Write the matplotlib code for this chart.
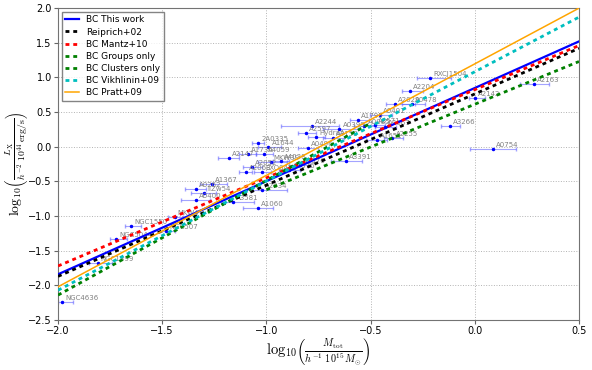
import numpy as np
import matplotlib
matplotlib.use("Agg")
import matplotlib.pyplot as plt

plt.rcParams['mathtext.fontset'] = 'cm'

# cluster sample: name, log10 mass, mass errors (lower / upper), log10 luminosity
names = ["NGC4636", "NGC1399", "NGC5044", "NGC1550", "NGC507", "MKW4",
         "A0400", "IIZw54", "A0262", "A1367", "A3581", "A1060", "A2634",
         "A2147", "2A0335", "A1644", "A1736", "A4059", "MKW3S", "A2052",
         "A2063", "EXO0422", "A0576", "A3376", "A4038", "A0496", "A2244",
         "A2597", "HydraA", "A0399", "A3158", "A3391", "A1795", "A0401",
         "A0085", "A3571", "A3667", "A2255", "A1651", "A2029", "A0478",
         "A2204", "RXCJ1504", "A2142", "A2163", "A3266", "A0754"]
logM = [-1.98, -1.81, -1.72, -1.65, -1.48, -1.44,
        -1.34, -1.30, -1.34, -1.26, -1.16, -1.04, -1.02,
        -1.18, -1.04, -0.99, -1.09, -1.01, -0.98, -1.07,
        -1.10, -1.02, -0.89, -0.84, -0.93, -0.80, -0.78,
        -0.81, -0.76, -0.65, -0.68, -0.62, -0.56, -0.455,
        -0.53, -0.48, -0.43, -0.395, -0.47, -0.385, -0.30,
        -0.31, -0.215, 0.00, 0.285, -0.12, 0.087]
errM_lo = [0.02, 0.04, 0.03, 0.03, 0.03, 0.03,
           0.07, 0.06, 0.05, 0.06, 0.06, 0.07, 0.05,
           0.05, 0.03, 0.05, 0.04, 0.04, 0.06, 0.04,
           0.03, 0.04, 0.05, 0.05, 0.04, 0.05, 0.15,
           0.04, 0.04, 0.08, 0.05, 0.07, 0.04, 0.05,
           0.05, 0.05, 0.05, 0.04, 0.05, 0.04, 0.05,
           0.04, 0.06, 0.03, 0.07, 0.04, 0.11]
errM_hi = [0.05, 0.07, 0.05, 0.05, 0.04, 0.04,
           0.07, 0.06, 0.05, 0.07, 0.10, 0.07, 0.12,
           0.05, 0.03, 0.06, 0.04, 0.04, 0.08, 0.05,
           0.03, 0.04, 0.05, 0.05, 0.04, 0.05, 0.13,
           0.05, 0.04, 0.09, 0.05, 0.08, 0.05, 0.06,
           0.05, 0.05, 0.05, 0.05, 0.05, 0.10, 0.06,
           0.06, 0.10, 0.05, 0.07, 0.05, 0.11]
logL = [-2.24, -1.68, -1.33, -1.14, -1.22, -1.01,
        -0.77, -0.67, -0.61, -0.54, -0.80, -0.89, -0.63,
        -0.16, 0.06, -0.01, -0.10, -0.11, -0.22, -0.29,
        -0.37, -0.37, -0.34, -0.26, -0.20, -0.02, 0.30,
        0.20, 0.14, 0.25, 0.12, -0.21, 0.39, 0.46,
        0.30, 0.32, 0.28, 0.13, 0.10, 0.62, 0.62,
        0.80, 0.99, 0.70, 0.90, 0.30, -0.03]

rel_labels = ["BC This work", "Reiprich+02", "BC Mantz+10", "BC Groups only",
              "BC Clusters only", "BC Vikhlinin+09", "BC Pratt+09"]
rel_colors = ["b", "k", "r", "g", "g", "c", "orange"]
rel_x = [[-2.0, 0.5], [-2.0, 0.5], [-2.0, 0.5], [-2.0, -0.5],
         [-1.0, 0.5], [-2.0, 0.5], [-2.0, 0.5]]
rel_y = [[-1.84, 1.52], [-1.87, 1.42], [-1.72, 1.46], [-2.14, 0.34],
         [-0.62, 1.23], [-2.07, 1.87], [-2.02, 2.00]]

fig = plt.figure(figsize=(5.92, 3.70), dpi=100)
ax = fig.add_axes([0.098, 0.135, 0.88, 0.843])

ax.errorbar(logM, logL, xerr=[errM_lo, errM_hi], fmt='.', color='b',
            ecolor=(0.35, 0.35, 1.0, 0.55), elinewidth=0.8, capsize=1.5,
            markersize=3, zorder=2)
for n, xm, yl in zip(names, logM, logL):
    ax.text(xm + 0.015, yl + 0.03, n, fontsize=5, color='0.5', zorder=3)

for lab, c, xs, ys in zip(rel_labels, rel_colors, rel_x, rel_y):
    if lab == "BC This work":
        ax.plot(xs, ys, color=c, lw=1.6, label=lab, zorder=4)
    elif lab == "BC Pratt+09":
        ax.plot(xs, ys, color=c, lw=1.1, label=lab, zorder=5)
    else:
        ax.plot(xs, ys, color=c, lw=2, ls=(0, (1.4, 1.4)), label=lab, zorder=4)

ax.set_xlim(-2.0, 0.5)
ax.set_ylim(-2.5, 2.0)
ax.set_xticks(np.arange(-2.0, 0.51, 0.5))
ax.set_yticks(np.arange(-2.5, 2.01, 0.5))
ax.grid(True, ls=':', color='0.7', lw=0.7)
ax.tick_params(labelsize=7, length=3, pad=1.5, color='0.4')
for s in ax.spines.values():
    s.set_color('0.45')

ax.set_xlabel(r"$\log_{10}\!\left(\frac{M_{\rm tot}}{h^{-1}\ 10^{15}\,M_{\odot}}\right)$",
              fontsize=10.5, labelpad=0)
ax.set_ylabel(r"$\log_{10}\!\left(\frac{L_{\rm X}}{h^{-2}\ 10^{44}\,{\rm erg/s}}\right)$",
              fontsize=10, labelpad=-1)

leg = ax.legend(loc='upper left', fontsize=6.5, handlelength=1.5,
                borderaxespad=0.4, labelspacing=0.35, fancybox=False)
leg.get_frame().set_edgecolor('0.4')

fig.savefig("out.png", dpi=100)
